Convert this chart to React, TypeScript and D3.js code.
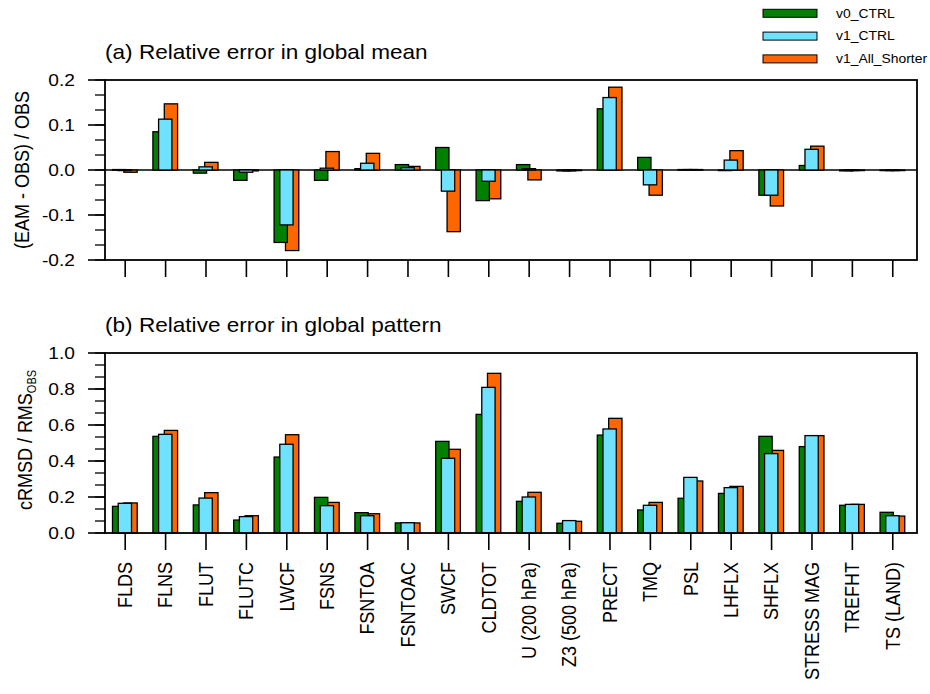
import React, { useEffect, useRef } from "react";
import * as d3 from "d3";

const categories = ["FLDS", "FLNS", "FLUT", "FLUTC", "LWCF", "FSNS", "FSNTOA", "FSNTOAC", "SWCF", "CLDTOT",
    "U (200 hPa)", "Z3 (500 hPa)", "PRECT", "TMQ", "PSL", "LHFLX", "SHFLX", "STRESS MAG", "TREFHT", "TS (LAND)"];

const seriesNames = ["v0_CTRL", "v1_CTRL", "v1_All_Shorter"];
const seriesColors = ["#008000", "#6fe2ff", "#ff6600"];

// (a) relative error in global mean
const meanV0 = [0.001, 0.085, -0.007, -0.023, -0.161, -0.023, 0.003, 0.012, 0.050, -0.068,
    0.012, -0.002, 0.136, 0.028, 0.001, -0.001, -0.056, 0.010, -0.002, 0.000];
const meanV1 = [0.000, 0.113, 0.007, -0.005, -0.122, 0.004, 0.015, 0.005, -0.047, -0.025,
    0.003, -0.002, 0.161, -0.033, 0.001, 0.022, -0.056, 0.046, -0.001, -0.001];
const meanAll = [-0.005, 0.147, 0.017, -0.002, -0.179, 0.041, 0.037, 0.008, -0.137, -0.064,
    -0.022, -0.001, 0.184, -0.056, 0.001, 0.043, -0.080, 0.053, -0.001, 0.000];

// (b) relative error in global pattern
const patV0 = [0.148, 0.537, 0.156, 0.072, 0.422, 0.198, 0.113, 0.056, 0.509, 0.659,
    0.176, 0.054, 0.544, 0.128, 0.193, 0.220, 0.537, 0.480, 0.154, 0.115];
const patV1 = [0.165, 0.548, 0.194, 0.091, 0.493, 0.152, 0.096, 0.057, 0.415, 0.809,
    0.200, 0.069, 0.578, 0.154, 0.309, 0.252, 0.441, 0.541, 0.159, 0.096];
const patAll = [0.167, 0.570, 0.224, 0.096, 0.546, 0.170, 0.107, 0.056, 0.465, 0.887,
    0.226, 0.065, 0.637, 0.170, 0.289, 0.259, 0.459, 0.541, 0.159, 0.094];

const meanTicks = [-0.2, -0.1, 0.0, 0.1, 0.2];
const patTicks = [0.0, 0.2, 0.4, 0.6, 0.8, 1.0];

const W = 930, H = 694;
const left = 105, right = 917;
const SX = 1.13; // the original is a bit wider than tall
const font = "'Liberation Sans', Arial, Helvetica, sans-serif";
const barW = 13.3;
// bars are painted orange first, then green, then cyan on top
const drawOrder = [2, 0, 1];

export default function App() {
    const svgRef = useRef(null);

    useEffect(() => {
        const svg = d3.select(svgRef.current);
        svg.selectAll("*").remove();

        const x = d3.scaleLinear().domain([-0.5, 19.6]).range([left, right]);
        const offset = d3.scaleLinear().domain([0, 2]).range([-12.7, -1.3]);

        function drawPanel(top, bottom, domain, ticks, data, title, hasZeroLine) {
            const g = svg.append("g");
            const y = d3.scaleLinear().domain(domain).range([bottom, top]);
            const step = ticks[1] - ticks[0];
            const minor = d3.range(domain[0], domain[1] + step / 6, step / 3);

            if (hasZeroLine) {
                g.append("line")
                    .attr("x1", left).attr("x2", right)
                    .attr("y1", y(0)).attr("y2", y(0))
                    .attr("stroke", "black").attr("stroke-width", 1.5);
            }

            drawOrder.forEach(s => {
                g.selectAll(".bar" + s)
                    .data(data[s])
                    .enter()
                    .append("rect")
                    .attr("x", (d, i) => x(i) + offset(s))
                    .attr("width", barW)
                    .attr("y", d => y(Math.max(d, 0)))
                    .attr("height", d => Math.max(Math.abs(y(d) - y(0)), 0.6))
                    .attr("fill", seriesColors[s])
                    .attr("stroke", "black")
                    .attr("stroke-width", 1.3);
            });

            // frame
            g.append("rect")
                .attr("x", left).attr("y", top)
                .attr("width", right - left).attr("height", bottom - top)
                .attr("fill", "none").attr("stroke", "black").attr("stroke-width", 1.8);

            // y ticks
            g.selectAll(".minor").data(minor).enter().append("line")
                .attr("x1", left - 10).attr("x2", left)
                .attr("y1", d => y(d)).attr("y2", d => y(d))
                .attr("stroke", "black").attr("stroke-width", 1.3);
            g.selectAll(".major").data(ticks).enter().append("line")
                .attr("x1", left - 17).attr("x2", left)
                .attr("y1", d => y(d)).attr("y2", d => y(d))
                .attr("stroke", "black").attr("stroke-width", 1.6);
            g.selectAll(".ylab").data(ticks).enter().append("text")
                .attr("transform", d => `translate(75,${y(d)}) scale(${SX},1)`)
                .attr("text-anchor", "end")
                .attr("dominant-baseline", "central")
                .style("font-size", "17px")
                .text(d => d.toFixed(1));

            // x ticks
            g.selectAll(".xt").data(categories).enter().append("line")
                .attr("x1", (d, i) => x(i)).attr("x2", (d, i) => x(i))
                .attr("y1", bottom).attr("y2", bottom + 17)
                .attr("stroke", "black").attr("stroke-width", 1.6);

            // title
            g.append("text")
                .attr("transform", `translate(${left},${top - 21}) scale(${SX},1)`)
                .style("font-size", "20px")
                .text(title);
            return g;
        }

        const ga = drawPanel(80, 260, [-0.2, 0.2], meanTicks, [meanV0, meanV1, meanAll],
            "(a) Relative error in global mean", true);
        ga.append("text")
            .attr("transform", `translate(22,170) scale(${SX},1) rotate(-90)`)
            .attr("text-anchor", "middle")
            .attr("dominant-baseline", "central")
            .style("font-size", "18px")
            .text("(EAM - OBS) / OBS");

        const gb = drawPanel(353, 533, [0, 1], patTicks, [patV0, patV1, patAll],
            "(b) Relative error in global pattern", false);
        const yl = gb.append("text")
            .attr("transform", `translate(25,440) scale(${SX},1) rotate(-90)`)
            .attr("text-anchor", "middle")
            .attr("dominant-baseline", "central")
            .style("font-size", "18px");
        yl.append("tspan").text("cRMSD / RMS");
        yl.append("tspan").attr("dy", 5).style("font-size", "11px").text("OBS");

        // category labels
        svg.append("g").selectAll("text").data(categories).enter().append("text")
            .attr("transform", (d, i) => `translate(${x(i)},562) scale(${SX},1) rotate(-90)`)
            .attr("text-anchor", "end")
            .attr("dominant-baseline", "central")
            .style("font-size", "18px")
            .text(d => d);

        // legend
        const leg = svg.append("g").selectAll("g").data(seriesNames).enter().append("g")
            .attr("transform", (d, i) => `translate(763,${13.3 + i * 22.8})`);
        leg.append("rect")
            .attr("x", 0).attr("y", -4)
            .attr("width", 54).attr("height", 8)
            .attr("fill", (d, i) => seriesColors[i])
            .attr("stroke", "black").attr("stroke-width", 1);
        leg.append("text")
            .attr("transform", `translate(73,0) scale(${SX},1)`)
            .attr("dominant-baseline", "central")
            .style("font-size", "12.3px")
            .text(d => d);
    }, []);

    return (
        <svg ref={svgRef} width={W} height={H}
            style={{ position: "absolute", left: 0, top: 0, background: "white", fontFamily: font }} />
    );
}
